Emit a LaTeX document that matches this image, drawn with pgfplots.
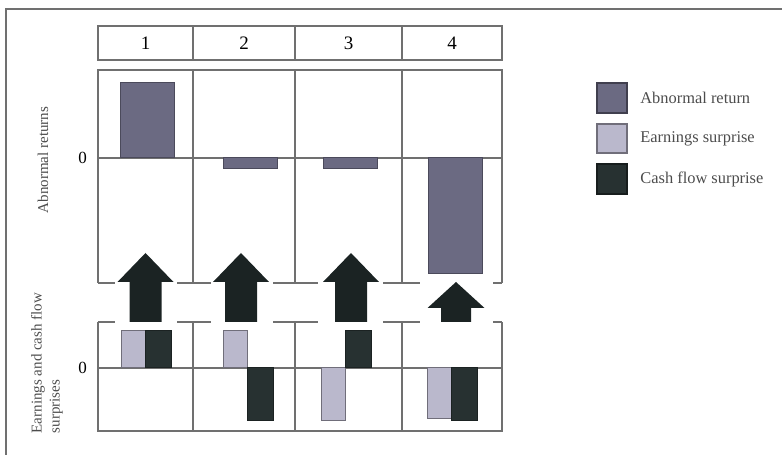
\documentclass[border=0pt]{standalone}
\usepackage{pgfplots}
\pgfplotsset{compat=1.18}
\usepackage{fontspec}
\setmainfont{Liberation Serif}
\definecolor{abn}{HTML}{6B6A82}
\definecolor{earn}{HTML}{BAB8CC}
\definecolor{cash}{HTML}{273131}
\definecolor{arr}{HTML}{1B2323}
\definecolor{lin}{HTML}{707070}
\pgfplotsset{
  panel/.style={
    scale only axis, width=202pt, xmin=98, xmax=502, clip=false,
    axis line style={draw=none},
    xtick={193,295,402}, xticklabels={}, xmajorgrids,
    ytick={0}, ymajorgrids,
    grid style={draw=lin, line width=0.9pt},
    major tick length=0pt,
    yticklabel style={font=\fontsize{8.5}{9}\selectfont, xshift=-2pt},
    /pgf/number format/assume math mode=true,
  }
}
\begin{document}
\begin{tikzpicture}
\begin{scope}[x=0.5pt,y=0.5pt]
  \path[use as bounding box] (0,0) rectangle (782,455);
  % frame
  \draw[lin, line width=1pt] (6,0) -- (6,446) -- (782,446);
  % header
  \draw[lin, line width=0.9pt] (98,395) rectangle (502,429);
  \foreach \xx in {193,295,402} \draw[lin, line width=0.9pt] (\xx,395) -- (\xx,429);
  \foreach \xx/\nn in {145.5/1,244/2,348.5/3,452/4}
    \node[font=\fontsize{9.5}{10}\selectfont] at (\xx,412) {\nn};
  % y labels
  \node[rotate=90, font=\fontsize{7.5}{8}\selectfont, text=black!70] at (43,295) {Abnormal returns};
  \node[rotate=90, align=left, font=\fontsize{7.5}{9}\selectfont, text=black!70, inner sep=0pt]
    at (47,92) {Earnings and cash flow\\surprises};
  % legend
  \draw[abn!60!black, line width=0.6pt, fill=abn] (597,342) rectangle (627,372);
  \draw[earn!60!black, line width=0.6pt, fill=earn] (597,302) rectangle (627,331);
  \draw[cash!60!black, line width=0.6pt, fill=cash] (597,261) rectangle (627,291);
  \node[anchor=west, font=\fontsize{8.2}{9}\selectfont, text=black!70, inner sep=0pt] at (640,357) {Abnormal return};
  \node[anchor=west, font=\fontsize{8.2}{9}\selectfont, text=black!70, inner sep=0pt] at (640,316.5) {Earnings surprise};
  \node[anchor=west, font=\fontsize{8.2}{9}\selectfont, text=black!70, inner sep=0pt] at (640,276) {Cash flow surprise};
\end{scope}

% top panel: abnormal returns
\begin{axis}[panel, at={(49pt,86pt)}, anchor=south west, height=106.5pt, ymin=-125, ymax=88]
  \addplot[ybar, bar width=54, bar shift=0pt, fill=abn, draw=abn!70!black, line width=0.5pt]
    coordinates {(147,75) (250.5,-11) (350.5,-11) (455,-116)};
  \draw[lin, line width=0.9pt] (axis cs:98,-125) -- (axis cs:98,88) -- (axis cs:502,88) -- (axis cs:502,-125);
  \draw[lin, line width=0.9pt] (axis cs:98,-125) -- (axis cs:115,-125);
  \draw[lin, line width=0.9pt] (axis cs:177,-125) -- (axis cs:211,-125);
  \draw[lin, line width=0.9pt] (axis cs:273,-125) -- (axis cs:318,-125);
  \draw[lin, line width=0.9pt] (axis cs:383,-125) -- (axis cs:420,-125);
  \draw[lin, line width=0.9pt] (axis cs:493,-125) -- (axis cs:502,-125);
\end{axis}

% bottom panel: surprises
\begin{axis}[panel, at={(49pt,12pt)}, anchor=south west, height=54.5pt, ymin=-63, ymax=46]
  \addplot[ybar, bar width=24, bar shift=0pt, fill=earn, draw=earn!60!black, line width=0.5pt]
    coordinates {(133.5,37) (235,37) (333,-53) (439.5,-51)};
  \addplot[ybar, bar width=26, bar shift=0pt, fill=cash, draw=cash!70!black, line width=0.5pt]
    coordinates {(158.5,37) (260,-53) (358.5,37) (464,-53)};
  \draw[lin, line width=0.9pt] (axis cs:98,46) -- (axis cs:98,-63) -- (axis cs:502,-63) -- (axis cs:502,46);
  \draw[lin, line width=0.9pt] (axis cs:98,46) -- (axis cs:115,46);
  \draw[lin, line width=0.9pt] (axis cs:177,46) -- (axis cs:211,46);
  \draw[lin, line width=0.9pt] (axis cs:273,46) -- (axis cs:318,46);
  \draw[lin, line width=0.9pt] (axis cs:383,46) -- (axis cs:420,46);
  \draw[lin, line width=0.9pt] (axis cs:493,46) -- (axis cs:502,46);
  % arrows
  \fill[arr] (axis cs:129.5,46) -- (axis cs:129.5,86) -- (axis cs:117.5,86) -- (axis cs:145.5,115)
      -- (axis cs:173.5,86) -- (axis cs:161.5,86) -- (axis cs:161.5,46) -- cycle;
  \fill[arr] (axis cs:225,46) -- (axis cs:225,86) -- (axis cs:213,86) -- (axis cs:241,115)
      -- (axis cs:269,86) -- (axis cs:257,86) -- (axis cs:257,46) -- cycle;
  \fill[arr] (axis cs:335,46) -- (axis cs:335,86) -- (axis cs:323,86) -- (axis cs:351,115)
      -- (axis cs:379,86) -- (axis cs:367,86) -- (axis cs:367,46) -- cycle;
  \fill[arr] (axis cs:441,46) -- (axis cs:441,60) -- (axis cs:427.5,60) -- (axis cs:456,86)
      -- (axis cs:484.5,60) -- (axis cs:471,60) -- (axis cs:471,46) -- cycle;
\end{axis}
\end{tikzpicture}
\end{document}
